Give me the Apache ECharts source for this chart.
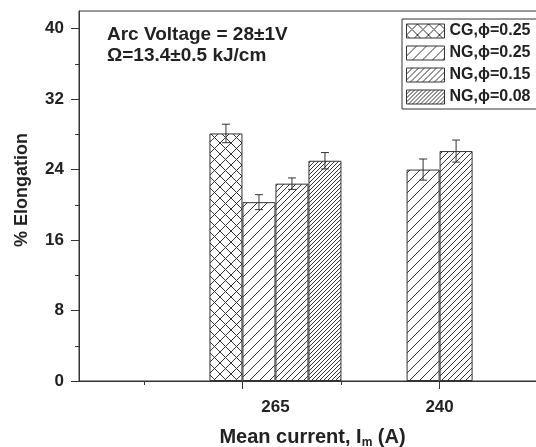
<!DOCTYPE html>
<html>
<head>
<meta charset="UTF-8">
<title>Elongation vs mean current</title>
<style>
  html, body { margin: 0; padding: 0; background: #fff; }
  #main { width: 536px; height: 447px; }
</style>
<script src="https://cdn.jsdelivr.net/npm/echarts@6/dist/echarts.min.js"></script>
</head>
<body>
<div id="main"></div>
<script>
// data
var groupNames = ['265', '240'];
var groupPos = [1.167, 2];          // where each current group sits on the x scale
var seriesNames = ['CG,ϕ=0.25', 'NG,ϕ=0.25', 'NG,ϕ=0.15', 'NG,ϕ=0.08'];
var cgVals   = [28.1, null];
var cgErr    = [1.05, null];
var ng25Vals = [20.3, 24.0];
var ng25Err  = [0.85, 1.2];
var ng15Vals = [22.4, 26.1];
var ng15Err  = [0.65, 1.25];
var ng08Vals = [25.0, null];
var ng08Err  = [0.93, null];
var yTicks = [0, 8, 16, 24, 32, 40];
var yMinor = [4, 12, 20, 28, 36];
var xMajor = [1, 2];
var xMinor = [0.5, 1.5, 2.5];
var note1 = 'Arc Voltage = 28±1V';
var note2 = 'Ω=13.4±0.5 kJ/cm';

var allVals = [cgVals, ng25Vals, ng15Vals, ng08Vals];
var allErr = [cgErr, ng25Err, ng15Err, ng08Err];

var FONT = '"Liberation Sans", Arial, sans-serif';
var INK = '#333';
var BAR_W = 33;

// hatch tiles
function hatch(step, cross) {
  var c = document.createElement('canvas');
  c.width = step; c.height = step;
  var g = c.getContext('2d');
  g.fillStyle = '#fff';
  g.fillRect(0, 0, step, step);
  g.strokeStyle = INK;
  g.lineWidth = 1;
  for (var k = -1; k <= 1; k++) {
    g.beginPath();
    g.moveTo(k * step, step);
    g.lineTo(k * step + step, 0);
    g.stroke();
    if (cross) {
      g.beginPath();
      g.moveTo(k * step, 0);
      g.lineTo(k * step + step, step);
      g.stroke();
    }
  }
  return { image: c, repeat: 'repeat' };
}
var fills = [hatch(11, true), hatch(10, false), hatch(6, false), hatch(4, false)];

function pairs(vals) {
  var out = [];
  for (var i = 0; i < vals.length; i++) {
    if (vals[i] != null) out.push([groupPos[i], vals[i]]);
  }
  return out;
}

var errData = [];
for (var s = 0; s < allVals.length; s++) {
  for (var i = 0; i < groupPos.length; i++) {
    if (allVals[s][i] != null) errData.push([groupPos[i], allVals[s][i], allErr[s][i], s]);
  }
}

var series = seriesNames.map(function (name, s) {
  return {
    name: name,
    type: 'bar',
    xAxisIndex: 0,
    yAxisIndex: 0,
    barWidth: BAR_W,
    barGap: '0%',
    data: pairs(allVals[s]),
    itemStyle: { color: fills[s], borderColor: INK, borderWidth: 1 }
  };
});

series.push({
  type: 'custom',
  xAxisIndex: 0,
  yAxisIndex: 0,
  z: 5,
  data: errData,
  renderItem: function (params, api) {
    var x = api.value(0), y = api.value(1), e = api.value(2), slot = api.value(3);
    var cx = api.coord([x, y])[0] + (slot - (seriesNames.length - 1) / 2) * BAR_W;
    var top = api.coord([x, y + e])[1];
    var bot = api.coord([x, y - e])[1];
    var st = { stroke: INK, lineWidth: 1 };
    return {
      type: 'group',
      children: [
        { type: 'line', shape: { x1: cx, y1: top, x2: cx, y2: bot }, style: st },
        { type: 'line', shape: { x1: cx - 4, y1: top, x2: cx + 4, y2: top }, style: st },
        { type: 'line', shape: { x1: cx - 4, y1: bot, x2: cx + 4, y2: bot }, style: st }
      ]
    };
  }
});

var chart = echarts.init(document.getElementById('main'));

var tickFont = { fontFamily: FONT, fontWeight: 'bold', fontSize: 17, color: '#222' };

chart.setOption({
  animation: false,
  backgroundColor: '#fff',
  title: {
    text: note1 + '\n' + note2,
    left: 107,
    top: 24,
    padding: 0,
    textStyle: { fontFamily: FONT, fontWeight: 'bold', fontSize: 19, lineHeight: 21, color: '#222' }
  },
  legend: {
    orient: 'vertical',
    left: 402,
    top: 19,
    padding: [4, 8, 4, 4],
    itemGap: 6,
    itemWidth: 38,
    itemHeight: 14,
    icon: 'rect',
    borderColor: INK,
    borderWidth: 1,
    data: seriesNames,
    itemStyle: { borderColor: INK, borderWidth: 1 },
    textStyle: { fontFamily: FONT, fontWeight: 'bold', fontSize: 16, color: '#222' }
  },
  grid: {
    left: 79, top: 11, bottom: 66, right: -10,
    outerBoundsMode: 'none',
    containLabel: false,
    show: true, borderColor: INK, borderWidth: 1, backgroundColor: 'transparent'
  },
  xAxis: [{
    type: 'value',
    min: 0.17,
    max: 2.54,
    name: 'Mean current, I{sub|m} (A)',
    nameLocation: 'middle',
    nameGap: 44,
    nameTextStyle: {
      fontFamily: FONT, fontWeight: 'bold', fontSize: 20, color: '#222',
      rich: { sub: { fontFamily: FONT, fontWeight: 'bold', fontSize: 12, color: '#222', padding: [12, 0, 0, 0] } }
    },
    axisLine: { lineStyle: { color: INK, width: 1 } },
    axisTick: { show: true, length: 8, customValues: xMajor, lineStyle: { color: INK } },
    axisLabel: Object.assign({
      customValues: groupPos,
      margin: 18,
      formatter: function (v) {
        for (var i = 0; i < groupPos.length; i++) if (Math.abs(v - groupPos[i]) < 1e-6) return groupNames[i];
        return '';
      }
    }, tickFont),
    splitLine: { show: false }
  }, {
    type: 'value',
    min: 0.17,
    max: 2.54,
    position: 'bottom',
    axisLine: { show: false },
    axisTick: { show: true, length: 4, customValues: xMinor, lineStyle: { color: INK } },
    axisLabel: { show: false },
    splitLine: { show: false }
  }],
  yAxis: [{
    type: 'value',
    min: 0,
    max: 42,
    name: '% Elongation',
    nameLocation: 'middle',
    nameGap: 48,
    nameTextStyle: { fontFamily: FONT, fontWeight: 'bold', fontSize: 18, color: '#222', padding: [0, 0, 0, 12] },
    axisLine: { show: true, lineStyle: { color: INK, width: 1 } },
    axisTick: { show: true, length: 8, customValues: yTicks, lineStyle: { color: INK } },
    axisLabel: Object.assign({ customValues: yTicks, margin: 15 }, tickFont),
    splitLine: { show: false }
  }, {
    type: 'value',
    min: 0,
    max: 42,
    position: 'left',
    axisLine: { show: false },
    axisTick: { show: true, length: 4, customValues: yMinor, lineStyle: { color: INK } },
    axisLabel: { show: false },
    splitLine: { show: false }
  }],
  series: series
});
</script>
</body>
</html>
